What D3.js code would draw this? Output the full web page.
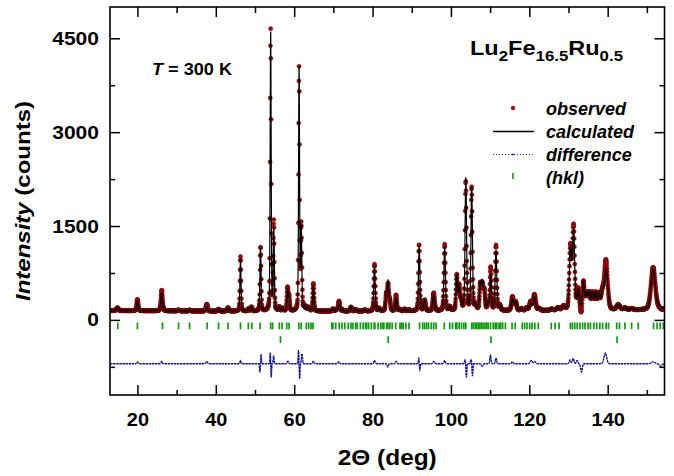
<!DOCTYPE html>
<html><head><meta charset="utf-8">
<script src="https://cdn.jsdelivr.net/npm/d3@7/dist/d3.min.js"></script>
<style>
body{margin:0;background:#fff}
svg text{font-family:"Liberation Sans",Arial,sans-serif;font-weight:bold;fill:#000}
</style>
</head><body>
<svg id="chart" width="674" height="476"></svg>
<script>
// ---- data ----
const xTicks = [20, 40, 60, 80, 100, 120, 140];
const xMinorTicks = [30, 50, 70, 90, 110, 130, 150];
const yTicks = [0, 1500, 3000, 4500];
const yMinorTicks = [-750, 750, 2250, 3750];

// Bragg peaks of the calculated profile (2θ, height above background, FWHM)
const peakPos  = [14.9,20.0,26.2,30.5,33.3,37.7,40.7,43.1,46.3,48.3,49.1,51.4,54.0,54.8,56.2,57.1,58.3,58.7,61.25,61.8,62.6,63.2,63.8,64.9,69.9,70.8,71.45,72.3,74.5,75.7,78.0,80.5,81.7,83.5,83.95,84.4,86.0,86.9,88.2,89.3,91.9,93.3,95.6,98.4,99.7,101.5,102.1,102.6,103.8,105.3,106.3,107.5,108.0,108.5,109.5,110.15,111.5,112.5,115.7,116.5,118.0,119.3,120.3,121.3,122.5,125.7,127.3,128.7,130.5,131.3,132.5,133.8,134.6,135.3,136.1,136.9,137.7,138.6,139.6,142.7,144.4,146.1,151.6,153.4];
const peakAmp  = [45,150,290,15,15,75,30,55,820,35,65,1010,4450,1300,60,40,330,210,3880,1300,70,60,50,400,35,30,130,25,65,25,20,700,40,260,460,150,215,25,30,20,1030,170,250,1010,60,560,380,150,2110,1960,80,400,420,300,100,560,950,80,190,140,30,40,100,220,30,20,40,60,950,1250,300,450,250,260,260,260,240,260,640,80,30,20,650,40];
const peakFwhm = [0.5,0.45,0.5,0.5,0.5,0.5,0.5,0.5,0.33,0.4,0.4,0.33,0.3,0.33,0.4,0.4,0.38,0.38,0.3,0.33,0.4,0.4,0.4,0.38,0.45,0.45,0.45,0.45,0.5,0.5,0.5,0.42,0.45,0.42,0.42,0.45,0.45,0.5,0.5,0.5,0.42,0.5,0.55,0.45,0.5,0.45,0.45,0.45,0.45,0.45,0.5,0.5,0.5,0.5,0.5,0.45,0.48,0.5,0.6,0.6,0.6,0.6,0.7,0.7,0.7,0.8,0.8,0.8,0.65,0.65,0.6,0.6,0.6,0.6,0.6,0.6,0.6,0.8,1.0,1.0,1.0,1.0,1.3,1.0];

// background knots (2θ, counts)
const bgAngle  = [13, 40, 80, 125, 155];
const bgCounts = [150, 140, 140, 150, 160];

// observed − calculated misfit features (2θ, counts, width)
const residPos  = [20.0,26.2,37.7,46.3,51.25,51.55,53.9,54.15,54.75,58.4,61.1,61.4,62.0,64.9,71.4,80.5,83.9,86.0,91.8,92.05,95.6,98.4,103.6,103.95,105.15,105.5,108.0,110.1,111.5,115.7,120.5,121.4,130.4,131.2,132.2,133.3,139.4,151.6,153.5];
const residAmp  = [30,40,35,50,-140,150,180,-220,130,40,220,-240,160,40,30,50,-50,40,90,-100,35,50,60,-220,70,-200,-40,130,90,30,50,35,60,80,50,-130,170,30,-40];
const residFwhm = [0.4,0.4,0.5,0.3,0.2,0.2,0.18,0.18,0.25,0.4,0.18,0.18,0.3,0.4,0.4,0.4,0.4,0.4,0.25,0.25,0.5,0.4,0.3,0.25,0.3,0.25,0.5,0.35,0.4,0.5,0.6,0.6,0.5,0.5,0.5,0.5,0.8,1,0.8];
const diffOffset = -700;

// reflection markers
const hklPhase1 = [15.0,20.0,26.4,30.5,33.3,37.8,40.7,43.1,46.3,48.3,49.2,51.3,54.0,54.5,56.2,56.9,58.1,58.7,61.2,61.8,63.1,63.7,64.3,64.8,69.6,69.9,70.6,71.5,72.2,72.9,73.8,74.5,75.0,75.7,76.1,76.9,77.6,78.2,78.5,79.0,79.7,80.4,80.6,81.4,82.1,82.6,82.9,83.6,83.9,84.4,85.0,85.9,87.0,87.4,87.8,88.5,89.3,92.0,92.8,93.3,93.8,94.3,95.0,95.6,96.2,98.3,99.7,100.4,101.2,101.5,102.1,102.7,103.3,103.8,105.3,105.7,106.2,106.6,107.0,107.4,107.8,108.2,108.7,109.1,109.5,110.1,110.8,111.3,111.7,112.3,112.7,113.2,113.9,115.6,116.4,118.2,118.8,119.4,120.1,120.7,121.4,122.3,125.6,126.6,127.6,130.5,131.0,131.6,132.2,132.9,133.6,134.2,135.0,135.6,136.5,137.2,138.0,138.7,139.6,140.2,142.3,143.0,144.4,146.1,147.8,151.7,152.6,153.4,154.2];
const hklPhase2 = [56.5, 84.0, 110.2, 142.4];

// ---- build profiles ----
const eta = 0.3, ln2x4 = 4 * Math.LN2;
const bgScale = d3.scaleLinear(bgAngle, bgCounts);
function pv(dx, h) { const r = dx / h; return eta / (1 + 4 * r * r) + (1 - eta) * Math.exp(-ln2x4 * r * r); }
function calc(t) {
  let s = bgScale(t);
  for (let i = 0; i < peakPos.length; i++) {
    const dx = t - peakPos[i];
    if (Math.abs(dx) < 12) s += peakAmp[i] * pv(dx, peakFwhm[i]);
  }
  return s;
}
function resid(t) {
  let s = 0;
  for (let i = 0; i < residPos.length; i++) {
    const r = (t - residPos[i]) / residFwhm[i];
    s += residAmp[i] * Math.exp(-ln2x4 * r * r);
  }
  return s;
}
const calcPts = d3.range(13000, 154501, 10).map(k => { const t = k / 1000; return [t, calc(t)]; });
const obsPts = d3.range(1300, 15451, 5).map(k => { const t = k / 100; return [t, calc(t) + resid(t)]; });
const diffPts = obsPts.map(([t]) => [t, diffOffset + resid(t)]);

// ---- chart ----
const svg = d3.select("#chart");
const L = 110, R = 664.5, T = 7, B = 395;
const x = d3.scaleLinear([13, 154.5], [L, R]);
const y = d3.scaleLinear([-1200, 5000], [B, T]);

svg.append("clipPath").attr("id", "clip").append("rect")
  .attr("x", L).attr("y", T).attr("width", R - L).attr("height", B - T);
const plot = svg.append("g").attr("clip-path", "url(#clip)");

// hkl markers
plot.append("g").selectAll("line").data(hklPhase1).join("line")
  .attr("x1", d => x(d)).attr("x2", d => x(d))
  .attr("y1", y(-40)).attr("y2", y(-150))
  .attr("stroke", "#119911").attr("stroke-width", 1.7);
plot.append("g").selectAll("line").data(hklPhase2).join("line")
  .attr("x1", d => x(d)).attr("x2", d => x(d))
  .attr("y1", y(-260)).attr("y2", y(-370))
  .attr("stroke", "#119911").attr("stroke-width", 1.7);

// difference
plot.append("path").datum(diffPts)
  .attr("d", d3.line().x(d => x(d[0])).y(d => y(d[1])))
  .attr("fill", "none").attr("stroke", "#14148c").attr("stroke-width", 1.4)
  .attr("stroke-dasharray", "2.5,0.6");

// observed
plot.append("g").selectAll("circle").data(obsPts).join("circle")
  .attr("cx", d => x(d[0])).attr("cy", d => y(d[1])).attr("r", 2.1)
  .attr("fill", "#9a0a0a").attr("stroke", "#5a0000").attr("stroke-width", 0.4);

// calculated
plot.append("path").datum(calcPts)
  .attr("d", d3.line().x(d => x(d[0])).y(d => y(d[1])))
  .attr("fill", "none").attr("stroke", "#000").attr("stroke-width", 1.2);

// axes
const fs = 19;
function styleAxis(g) { g.select(".domain").remove(); g.selectAll(".tick line").attr("stroke", "#000").attr("stroke-width", 1.5); }
const gxb = svg.append("g").attr("transform", `translate(0,${B})`)
  .call(d3.axisBottom(x).tickValues(xTicks).tickSizeInner(-10).tickSizeOuter(0).tickPadding(18).tickFormat(d3.format("d")))
  .call(styleAxis);
gxb.selectAll("text").attr("font-size", fs).attr("fill", "#000")
  .attr("textLength", d => String(d).length * 11.1).attr("lengthAdjust", "spacingAndGlyphs");
svg.append("g").attr("transform", `translate(0,${B})`)
  .call(d3.axisBottom(x).tickValues(xMinorTicks).tickSizeInner(-5).tickSizeOuter(0).tickFormat(""))
  .call(styleAxis);
svg.append("g").attr("transform", `translate(0,${T})`)
  .call(d3.axisTop(x).tickValues(xTicks).tickSizeInner(-10).tickSizeOuter(0).tickFormat(""))
  .call(styleAxis);
svg.append("g").attr("transform", `translate(0,${T})`)
  .call(d3.axisTop(x).tickValues(xMinorTicks).tickSizeInner(-6).tickSizeOuter(0).tickFormat(""))
  .call(styleAxis);

const gyl = svg.append("g").attr("transform", `translate(${L},0)`)
  .call(d3.axisLeft(y).tickValues(yTicks).tickSizeInner(-10).tickSizeOuter(0).tickPadding(11).tickFormat(d3.format("d")))
  .call(styleAxis);
gyl.selectAll("text").attr("font-size", fs).attr("fill", "#000")
  .attr("textLength", d => String(d).length * 11.7).attr("lengthAdjust", "spacingAndGlyphs");
svg.append("g").attr("transform", `translate(${L},0)`)
  .call(d3.axisLeft(y).tickValues(yMinorTicks).tickSizeInner(-5).tickSizeOuter(0).tickFormat(""))
  .call(styleAxis);
svg.append("g").attr("transform", `translate(${R},0)`)
  .call(d3.axisRight(y).tickValues(yTicks).tickSizeInner(-10).tickSizeOuter(0).tickFormat(""))
  .call(styleAxis);
svg.append("g").attr("transform", `translate(${R},0)`)
  .call(d3.axisRight(y).tickValues(yMinorTicks).tickSizeInner(-5).tickSizeOuter(0).tickFormat(""))
  .call(styleAxis);

svg.append("rect").attr("x", L).attr("y", T).attr("width", R - L).attr("height", B - T)
  .attr("fill", "none").attr("stroke", "#000").attr("stroke-width", 1.6);

// axis titles
svg.append("text").attr("x", (L + R) / 2).attr("y", 465).attr("text-anchor", "middle")
  .attr("font-size", 22).attr("textLength", 99).attr("lengthAdjust", "spacingAndGlyphs")
  .text("2\u0398 (deg)");
const yt = svg.append("text").attr("transform", `translate(30,${(T + B) / 2}) rotate(-90)`)
  .attr("text-anchor", "middle").attr("font-size", 20)
  .attr("textLength", 200).attr("lengthAdjust", "spacingAndGlyphs");
yt.append("tspan").attr("font-style", "italic").text("Intensity");
yt.append("tspan").text(" (counts)");

// annotations
const tt = svg.append("text").attr("x", 152).attr("y", 75).attr("font-size", 17)
  .attr("textLength", 80).attr("lengthAdjust", "spacingAndGlyphs");
tt.append("tspan").attr("font-style", "italic").text("T");
tt.append("tspan").text(" = 300 K");

const ft = svg.append("text").attr("x", 470).attr("y", 55).attr("font-size", 21)
  .attr("textLength", 153).attr("lengthAdjust", "spacingAndGlyphs");
ft.append("tspan").text("Lu");
ft.append("tspan").attr("font-size", 15).attr("dy", 6).text("2");
ft.append("tspan").attr("dy", -6).text("Fe");
ft.append("tspan").attr("font-size", 15).attr("dy", 6).text("16.5");
ft.append("tspan").attr("dy", -6).text("Ru");
ft.append("tspan").attr("font-size", 15).attr("dy", 6).text("0.5");

// legend
const lg = svg.append("g");
const legendLabels = ["observed", "calculated", "difference", "(hkl)"];
const rowY = [108, 131.5, 154.5, 177];
lg.append("circle").attr("cx", 513).attr("cy", rowY[0]).attr("r", 2)
  .attr("fill", "#9a0a0a").attr("stroke", "#5a0000").attr("stroke-width", 0.4);
lg.append("line").attr("x1", 493).attr("x2", 534).attr("y1", rowY[1]).attr("y2", rowY[1])
  .attr("stroke", "#000").attr("stroke-width", 1.3);
lg.append("line").attr("x1", 493).attr("x2", 534).attr("y1", rowY[2]).attr("y2", rowY[2])
  .attr("stroke", "#3a3ab0").attr("stroke-width", 1).attr("stroke-dasharray", "1,2");
lg.append("circle").attr("cx", 513).attr("cy", rowY[2]).attr("r", 1).attr("fill", "#1a1a9e");
lg.append("line").attr("x1", 513).attr("x2", 513).attr("y1", rowY[3] - 4).attr("y2", rowY[3] + 2)
  .attr("stroke", "#119911").attr("stroke-width", 1.6);
lg.selectAll("text.lab").data(legendLabels).join("text").attr("class", "lab")
  .attr("x", 546).attr("y", (d, i) => rowY[i] + 6.5)
  .attr("font-size", 18).attr("font-style", "italic").text(d => d);
</script>
</body></html>
